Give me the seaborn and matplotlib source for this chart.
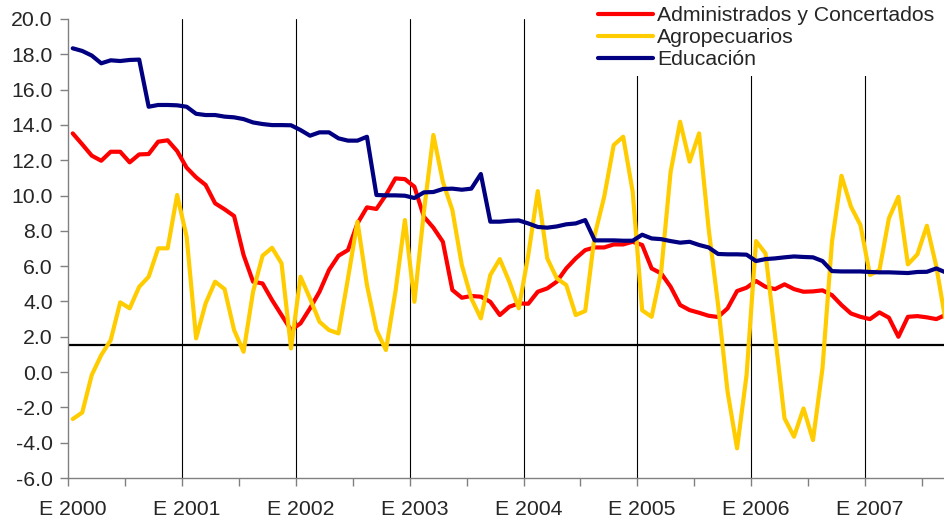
import numpy as np
import pandas as pd
import matplotlib
matplotlib.use("Agg")
import matplotlib.pyplot as plt
import seaborn as sns

# monthly series, Jan 2000 .. Sep 2007
years = ["E 2000", "E 2001", "E 2002", "E 2003", "E 2004", "E 2005", "E 2006", "E 2007"]

administrados = [
    13.52, 12.90, 12.26, 11.97, 12.48, 12.48, 11.88, 12.33, 12.35, 13.05, 13.13, 12.52,
    11.58, 11.03, 10.60, 9.56, 9.22, 8.84, 6.63, 5.12, 5.02, 4.08, 3.23, 2.38,
    2.76, 3.61, 4.55, 5.78, 6.59, 6.91, 8.42, 9.33, 9.24, 10.03, 10.97, 10.93,
    10.50, 8.80, 8.18, 7.38, 4.65, 4.21, 4.31, 4.27, 3.98, 3.23, 3.70, 3.89,
    3.87, 4.55, 4.74, 5.12, 5.87, 6.44, 6.91, 7.06, 7.06, 7.23, 7.23, 7.38,
    7.20, 5.87, 5.59, 4.83, 3.80, 3.51, 3.36, 3.19, 3.12, 3.61, 4.59, 4.78,
    5.16, 4.83, 4.70, 4.97, 4.70, 4.55, 4.57, 4.63, 4.36, 3.80, 3.32, 3.13,
    3.00, 3.38, 3.08, 2.00, 3.13, 3.17, 3.10, 3.00, 3.25,
]

agropecuarios = [
    -2.66, -2.29, -0.17, 0.96, 1.81, 3.95, 3.61, 4.83, 5.40, 7.01, 7.01, 10.03,
    7.67, 1.91, 3.89, 5.12, 4.70, 2.38, 1.15, 4.55, 6.59, 7.04, 6.16, 1.34,
    5.40, 4.17, 2.85, 2.38, 2.19, 5.31, 8.52, 4.93, 2.38, 1.25, 4.55, 8.61,
    3.98, 9.08, 13.43, 10.78, 9.18, 6.06, 4.17, 3.04, 5.50, 6.40, 5.12, 3.61,
    6.63, 10.25, 6.44, 5.31, 4.93, 3.23, 3.46, 7.76, 9.93, 12.86, 13.33, 10.22,
    3.50, 3.13, 5.68, 11.35, 14.18, 11.92, 13.52, 8.14, 3.80, -1.11, -4.32, -0.17,
    7.42, 6.72, 2.10, -2.62, -3.66, -2.06, -3.85, 0.21, 7.38, 11.12, 9.37, 8.33,
    5.50, 5.78, 8.71, 9.93, 6.10, 6.67, 8.29, 5.97, 2.80,
]

educacion = [
    18.34, 18.19, 17.93, 17.49, 17.66, 17.62, 17.68, 17.70, 15.03, 15.13, 15.13, 15.11,
    15.03, 14.63, 14.56, 14.56, 14.47, 14.43, 14.33, 14.14, 14.05, 13.99, 13.99, 13.98,
    13.71, 13.39, 13.58, 13.58, 13.24, 13.11, 13.11, 13.33, 10.03, 10.01, 10.01, 9.99,
    9.86, 10.18, 10.20, 10.37, 10.39, 10.33, 10.39, 11.22, 8.52, 8.52, 8.57, 8.59,
    8.42, 8.22, 8.18, 8.25, 8.37, 8.42, 8.61, 7.46, 7.46, 7.46, 7.44, 7.44,
    7.78, 7.57, 7.53, 7.42, 7.33, 7.38, 7.20, 7.06, 6.69, 6.67, 6.67, 6.65,
    6.29, 6.40, 6.44, 6.50, 6.55, 6.52, 6.50, 6.29, 5.72, 5.70, 5.70, 5.70,
    5.67, 5.65, 5.65, 5.63, 5.61, 5.67, 5.68, 5.87, 5.64,
]

reference_level = 1.55

series = {
    "Administrados y Concertados": (administrados, "#FF0000"),
    "Agropecuarios": (agropecuarios, "#FFCC00"),
    "Educación": (educacion, "#000080"),
}

sns.set_style("white")
plt.rcParams["font.family"] = ["Liberation Sans", "DejaVu Sans"]
plt.rcParams["axes.unicode_minus"] = False

fig = plt.figure(figsize=(9.44, 5.21), dpi=100)
ax = fig.add_axes([68 / 944, 43 / 521, 882.6 / 944, 459 / 521])

month = np.arange(len(educacion))
for name, (vals, col) in series.items():
    df = pd.DataFrame({"month": month, "value": vals})
    sns.lineplot(data=df, x="month", y="value", color=col, linewidth=3,
                 label=name, ax=ax, zorder=3)

# year separators and reference line
for k in range(1, len(years)):
    ax.axvline(12 * k - 0.5, color="black", linewidth=0.8, zorder=1)
ax.axhline(reference_level, color="black", linewidth=1.6, zorder=2)

ax.set_xlim(-0.5, len(month) - 0.5)
ax.set_ylim(-6, 20)
ax.set_yticks(np.arange(-6, 21, 2))
ax.yaxis.set_major_formatter(matplotlib.ticker.FormatStrFormatter("%.1f"))

ax.set_xticks(np.arange(len(years)) * 12)
ax.set_xticklabels(years)
ax.set_xticks(np.arange(-0.5, len(month), 6), minor=True)
ax.tick_params(axis="x", which="major", length=0, pad=16, labelsize=15.3)
ax.tick_params(axis="x", which="minor", length=6, width=1, color="#808080",
               direction="out", bottom=True)
ax.tick_params(axis="y", length=6, width=1, color="#808080", direction="out",
               left=True, pad=5, labelsize=15.3)

ax.set_xlabel("")
ax.set_ylabel("")
sns.despine(ax=ax, top=True, right=True)
for side in ["left", "bottom"]:
    ax.spines[side].set_color("#808080")
    ax.spines[side].set_linewidth(1)

leg = ax.legend(loc="upper right", bbox_to_anchor=(941 / 944, 1.0),
                bbox_transform=fig.transFigure, frameon=True, facecolor="white",
                edgecolor="none", framealpha=1, fancybox=False, fontsize=15.3,
                handlelength=2.6, handletextpad=0.2, labelspacing=0.14,
                borderpad=0.3, borderaxespad=0)
for line in leg.get_lines():
    line.set_linewidth(3)

fig.savefig("out.png", dpi=100)
